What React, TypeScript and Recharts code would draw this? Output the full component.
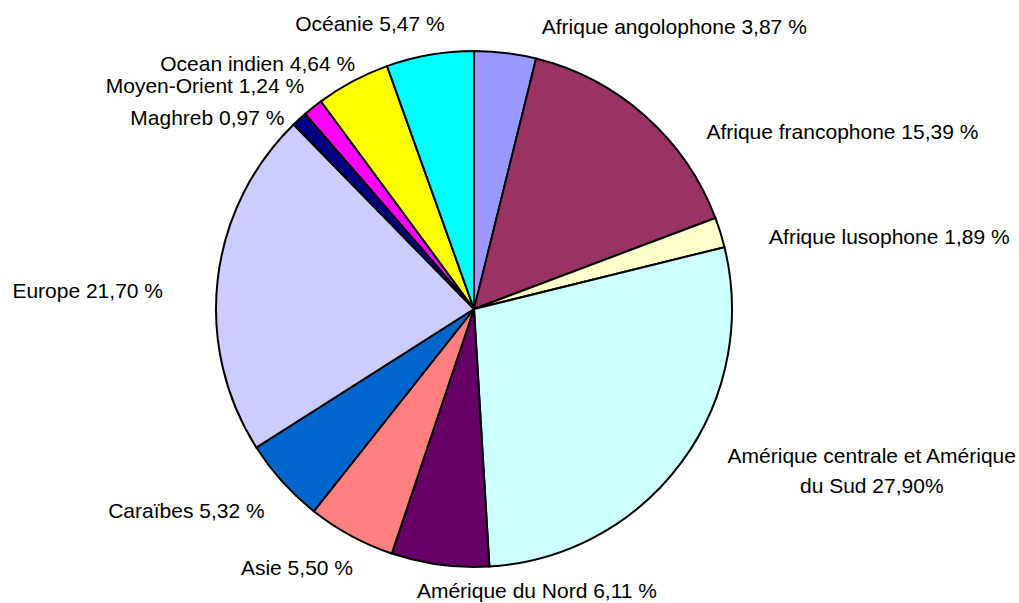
import React from "react";
import { PieChart, Pie, Cell } from "recharts";

const regions = [
  "Afrique angolophone",
  "Afrique francophone",
  "Afrique lusophone",
  "Amérique centrale et Amérique du Sud",
  "Amérique du Nord",
  "Asie",
  "Caraïbes",
  "Europe",
  "Maghreb",
  "Moyen-Orient",
  "Ocean indien",
  "Océanie",
];

const shares = [3.87, 15.39, 1.89, 27.9, 6.11, 5.5, 5.32, 21.7, 0.97, 1.24, 4.64, 5.47];

const labels = [
  "Afrique angolophone 3,87 %",
  "Afrique francophone 15,39 %",
  "Afrique lusophone 1,89 %",
  "Amérique centrale et Amérique\ndu Sud 27,90%",
  "Amérique du Nord 6,11 %",
  "Asie 5,50 %",
  "Caraïbes 5,32 %",
  "Europe 21,70 %",
  "Maghreb 0,97 %",
  "Moyen-Orient 1,24 %",
  "Ocean indien 4,64 %",
  "Océanie 5,47 %",
];

const colors = [
  "#9999FF",
  "#993366",
  "#FFFFCC",
  "#CCFFFF",
  "#660066",
  "#FF8080",
  "#0066CC",
  "#CCCCFF",
  "#000080",
  "#FF00FF",
  "#FFFF00",
  "#00FFFF",
];

// how far each label sits from the slice's outer edge (Excel-like placement)
const labelNudge: Array<[number, number]> = [
  [169, -27],
  [197, 15],
  [169, 4],
  [190, 8],
  [97, 25],
  [-54, 31],
  [-96, 28],
  [-130, 11],
  [-92, -2],
  [-108, -22],
  [-95, -18],
  [-60, -32],
];

const data = regions.map((name, i) => ({ name, value: shares[i] }));

const RADIAN = Math.PI / 180;

const renderLabel = (props: any) => {
  const { cx, cy, midAngle, outerRadius, index } = props;
  const ex = cx + outerRadius * Math.cos(-midAngle * RADIAN);
  const ey = cy + outerRadius * Math.sin(-midAngle * RADIAN);
  const [dx, dy] = labelNudge[index];
  const lines = labels[index].split("\n");
  const lineH = 30;
  const y0 = ey + dy - ((lines.length - 1) * lineH) / 2;
  return (
    <text
      x={ex + dx}
      y={y0}
      textAnchor="middle"
      dominantBaseline="central"
      fill="#000"
      fontSize={21}
      fontFamily="'Liberation Sans', Arial, sans-serif"
    >
      {lines.map((l, k) => (
        <tspan key={k} x={ex + dx} y={y0 + k * lineH}>
          {l}
        </tspan>
      ))}
    </text>
  );
};

const App: React.FC = () => {
  return (
    <div style={{ position: "absolute", left: 0, top: 0, width: 1019, height: 603, background: "#fff" }}>
      <PieChart width={1019} height={603} margin={{ top: 0, right: 0, bottom: 0, left: 0 }}>
        <Pie
          data={data}
          dataKey="value"
          nameKey="name"
          cx={474}
          cy={309}
          outerRadius={258}
          startAngle={90}
          endAngle={-270}
          stroke="#000"
          strokeWidth={2}
          label={renderLabel}
          labelLine={false}
          isAnimationActive={false}
        >
          {data.map((d, i) => (
            <Cell key={d.name} fill={colors[i]} stroke="#000" strokeWidth={2} />
          ))}
        </Pie>
      </PieChart>
    </div>
  );
};

export default App;
